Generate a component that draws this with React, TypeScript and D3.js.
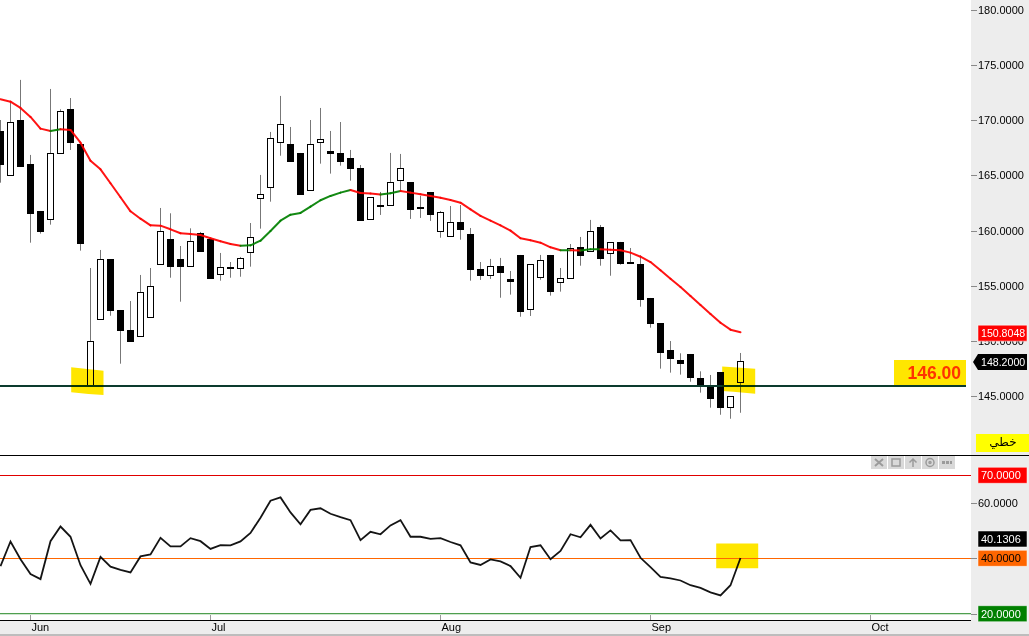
import * as d3 from 'd3'

const WIDTH = 1029
const HEIGHT = 636
const PLOT_RIGHT = 971

// daily candles, Jun - Sep
const opens = [169.01, 165.0, 170.0, 166.02, 161.77, 161.02, 166.99, 171.0, 167.83, 146.02, 151.97, 157.4, 152.81, 150.97, 150.43, 152.15, 156.95, 159.24, 157.43, 156.77, 159.78, 159.24, 156.04, 156.67, 156.58, 158.03, 162.97, 163.91, 167.99, 167.83, 167.02, 163.64, 167.99, 167.2, 167.02, 166.57, 165.66, 161.02, 162.31, 162.28, 164.55, 164.39, 162.13, 163.49, 159.93, 159.48, 160.77, 159.69, 156.52, 155.95, 156.79, 155.62, 157.79, 152.93, 155.77, 157.79, 155.32, 155.68, 158.51, 158.12, 160.32, 157.94, 158.97, 157.15, 156.97, 153.9, 151.63, 149.19, 148.29, 148.83, 146.66, 146.0, 147.2, 144.0, 146.32]
const highs = [170.0, 171.66, 173.63, 166.84, 161.77, 172.81, 170.97, 171.99, 167.83, 156.61, 158.24, 157.4, 152.81, 153.62, 155.98, 156.61, 162.04, 161.56, 158.6, 160.2, 159.87, 159.24, 157.97, 157.15, 157.61, 160.68, 165.03, 168.92, 172.18, 169.37, 167.02, 170.0, 171.09, 169.01, 169.82, 167.29, 165.93, 163.01, 163.49, 167.02, 166.93, 164.39, 163.13, 163.49, 161.77, 162.22, 162.31, 160.23, 157.15, 157.43, 157.52, 156.34, 157.79, 156.95, 157.79, 157.79, 156.61, 158.78, 159.42, 160.96, 160.5, 158.94, 158.97, 158.42, 157.76, 153.9, 151.63, 150.0, 148.89, 148.83, 147.26, 146.93, 147.2, 145.0, 148.92]
const lows = [164.33, 165.0, 165.78, 158.9, 159.72, 160.53, 166.99, 167.29, 158.18, 146.02, 151.97, 152.29, 147.95, 149.94, 150.43, 152.15, 156.95, 155.73, 153.56, 156.77, 158.09, 155.64, 155.46, 155.73, 155.82, 156.73, 160.17, 162.61, 166.77, 166.23, 163.24, 163.64, 166.05, 165.15, 165.87, 164.51, 160.89, 161.02, 161.41, 162.28, 163.52, 161.05, 161.14, 160.87, 159.35, 159.48, 159.17, 155.46, 155.53, 155.62, 153.92, 154.2, 152.2, 152.27, 155.55, 154.11, 154.47, 155.68, 156.82, 158.12, 156.82, 155.91, 156.91, 157.0, 153.11, 151.21, 147.5, 147.14, 146.96, 146.32, 145.33, 143.97, 143.33, 142.97, 143.51]
const closes = [165.96, 169.8, 165.78, 161.53, 159.87, 166.99, 170.79, 167.95, 158.81, 149.98, 157.4, 152.75, 150.94, 149.94, 154.41, 154.96, 159.93, 156.73, 156.73, 159.03, 158.09, 155.64, 156.67, 156.55, 157.49, 159.39, 163.28, 168.35, 169.62, 166.23, 163.24, 167.81, 168.26, 166.96, 166.23, 165.6, 160.89, 163.01, 162.16, 164.36, 165.63, 161.89, 161.98, 161.44, 161.65, 160.75, 160.08, 156.45, 155.91, 156.77, 156.19, 155.37, 152.66, 156.95, 157.31, 154.47, 155.68, 158.39, 157.72, 159.93, 157.45, 158.94, 157.0, 157.0, 153.74, 151.57, 148.95, 148.4, 147.95, 146.68, 146.0, 144.78, 143.97, 145.0, 148.17]
const movingAverage = [171.88, 171.66, 171.09, 170.28, 169.22, 169.01, 169.16, 169.1, 167.95, 166.32, 165.54, 164.28, 163.01, 161.74, 161.07, 160.47, 160.44, 160.11, 159.75, 159.69, 159.6, 159.3, 159.03, 158.78, 158.63, 158.66, 159.08, 159.96, 160.89, 161.43, 161.59, 162.16, 162.74, 163.13, 163.43, 163.67, 163.4, 163.34, 163.25, 163.37, 163.58, 163.43, 163.28, 163.13, 162.97, 162.77, 162.52, 161.92, 161.32, 160.89, 160.47, 159.99, 159.3, 159.12, 158.9, 158.48, 158.21, 158.21, 158.19, 158.3, 158.3, 158.27, 158.21, 158.0, 157.63, 157.15, 156.4, 155.64, 154.89, 154.08, 153.26, 152.45, 151.66, 151.03, 150.8]
const rsi = [37.2, 46.1, 39.7, 34.3, 32.5, 46.2, 51.5, 47.8, 37.5, 30.8, 40.5, 37.0, 35.8, 34.9, 40.7, 41.4, 47.4, 44.3, 44.3, 47.3, 46.2, 43.4, 44.8, 44.7, 46.1, 49.2, 54.7, 60.8, 62.0, 56.6, 52.3, 57.5, 58.1, 56.1, 54.9, 53.8, 46.6, 49.6, 48.7, 51.9, 53.8, 47.8, 47.8, 47.0, 47.3, 45.9, 44.7, 38.5, 37.6, 39.6, 38.9, 37.2, 33.0, 44.1, 44.7, 39.7, 42.7, 48.7, 47.6, 52.1, 47.2, 50.1, 46.5, 46.6, 40.2, 36.8, 33.3, 32.8, 32.0, 30.3, 29.3, 27.7, 26.6, 30.3, 40.13]

const priceTicks = [180, 175, 170, 165, 160, 155, 150, 145]
const rsiTicks = [60, 40, 20]
const months = ['Jun', 'Jul', 'Aug', 'Sep', 'Oct']
const monthIndex = [3, 21, 44, 65, 87]

const supportLevel = 146
const lastClose = 148.2
const lastMa = 150.8048
const lastRsi = 40.1306
const rsiHigh = 70
const rsiMid = 40
const rsiLow = 20

// hand drawn highlights, [bar index, value]
const leftHighlight = [[7.07, 147.62], [10.3, 147.32], [10.3, 145.12], [8.8, 145.21], [7.07, 145.36]]
const rightHighlight = [[72.17, 147.7], [75.47, 147.5], [75.47, 145.24], [73.27, 145.42], [72.17, 145.48]]
const rsiHighlight = [[71.57, 45.4], [75.77, 45.4], [75.77, 36.4], [71.57, 36.4]]

const FONT = '"Liberation Sans", Arial, sans-serif'

const x = d3.scaleLinear().domain([0, 87]).range([0.5, 870.5])
const yPrice = d3.scaleLinear().domain([145, 180]).range([396.3, 9.5])
const yRsi = d3.scaleLinear().domain([20, 70]).range([613.7, 475.3])

const snap = (v: number) => Math.round(v)

function Tag({ y, label, fill, color, pointer }: { y: number; label: string; fill: string; color: string; pointer?: boolean }) {
  const top = y - 8
  const d = pointer
    ? `M973,${y}L978,${top}H1027V${top + 16}H978Z`
    : `M978,${top}H1027V${top + 16}H978Z`
  return (
    <g>
      <path d={d} fill={fill} stroke={pointer ? 'none' : '#fff'} strokeOpacity={0.5} />
      <text x={981} y={y + 4} fontSize={pointer || label.length > 7 ? 10.6 : 11} fontFamily={FONT} fill={color}>
        {label}
      </text>
    </g>
  )
}

function ToolButton({ index, children }: { index: number; children: any }) {
  return (
    <g transform={`translate(${871 + index * 17} 456)`}>
      <rect width={16} height={13} fill="#d9d9d9" />
      <g stroke="#9b9b9b" fill="none" strokeWidth={1.5}>
        {children}
      </g>
    </g>
  )
}

export default function App() {
  const rsiLine = d3
    .line<number>()
    .x((_, i) => x(i))
    .y((d) => yRsi(d))
  const poly = (pts: number[][], y: d3.ScaleLinear<number, number>) =>
    d3
      .line<number[]>()
      .x((p) => x(p[0]))
      .y((p) => y(p[1]))(pts) + 'Z'

  return (
    <svg
      width={WIDTH}
      height={HEIGHT}
      viewBox={`0 0 ${WIDTH} ${HEIGHT}`}
      style={{ position: 'absolute', left: 0, top: 0, background: '#fff' }}
    >
      {/* axis backgrounds */}
      <rect x={PLOT_RIGHT} y={0} width={WIDTH - PLOT_RIGHT} height={HEIGHT} fill="#ededed" />
      <rect x={0} y={621} width={PLOT_RIGHT} height={15} fill="#ededed" />
      <rect x={0} y={634} width={WIDTH} height={2} fill="#bdbdbd" />

      {/* price ticks */}
      {priceTicks.map((t) => (
        <g key={t}>
          <line x1={PLOT_RIGHT} x2={977} y1={snap(yPrice(t)) + 0.5} y2={snap(yPrice(t)) + 0.5} stroke="#8a8a8a" />
          <text x={978} y={yPrice(t) + 4} fontSize={11} fontFamily={FONT} fill="#000">
            {t.toFixed(4)}
          </text>
        </g>
      ))}

      {/* candles */}
      {closes.map((c, i) => {
        const o = opens[i]
        const up = c >= o
        const cx = snap(x(i) - 0.5) + 0.5
        const top = snap(yPrice(Math.max(o, c)))
        const bottom = snap(yPrice(Math.min(o, c)))
        return (
          <g key={i}>
            <line x1={cx} x2={cx} y1={yPrice(highs[i])} y2={yPrice(lows[i])} stroke="#777" strokeWidth={1} />
            {up ? (
              <rect x={cx - 3} y={top + 0.5} width={6} height={Math.max(bottom - top, 2)} fill="#fff" stroke="#000" strokeWidth={1} />
            ) : (
              <rect x={cx - 3.5} y={top} width={7} height={Math.max(bottom - top, 2)} fill="#000" />
            )}
          </g>
        )
      })}

      {/* moving average, green while rising */}
      {movingAverage.slice(1).map((v, i) => {
        const prev = movingAverage[i]
        const path = d3
          .line<number>()
          .x((_, k) => x(i + k))
          .y((d) => yPrice(d))([prev, v]) as string
        return <path key={i} d={path} fill="none" stroke={v >= prev ? '#008000' : '#ff0000'} strokeWidth={2} strokeLinecap="round" opacity={0.92} />
      })}

      {/* support line */}
      <line x1={0} x2={966} y1={snap(yPrice(supportLevel)) + 1} y2={snap(yPrice(supportLevel)) + 1} stroke="#0c3b2e" strokeWidth={2} />
      <rect x={894} y={360} width={72} height={25} fill="#ffe600" />
      <text x={961} y={379} textAnchor="end" fontSize={17.5} fontWeight={700} fontFamily={FONT} fill="#ff3300">
        {supportLevel.toFixed(2)}
      </text>

      {/* marker highlights */}
      <path d={poly(leftHighlight, yPrice)} fill="#ffe600" style={{ mixBlendMode: 'multiply' }} />
      <path d={poly(rightHighlight, yPrice)} fill="#ffe600" style={{ mixBlendMode: 'multiply' }} />

      <Tag y={yPrice(lastMa) + 1} label={lastMa.toFixed(4)} fill="#ff0000" color="#fff" />
      <Tag y={362} label={lastClose.toFixed(4)} fill="#000" color="#fff" pointer />

      <rect x={976} y={434} width={53} height={18} fill="#ffff00" />
      <text x={1003} y={446} textAnchor="middle" fontSize={12} fontFamily='"DejaVu Sans", sans-serif' fill="#000">
        خطي
      </text>

      {/* pane divider and toolbar */}
      <line x1={0} x2={WIDTH} y1={455.5} y2={455.5} stroke="#000" />
      <ToolButton index={0}>
        <path d="M4,3L12,10M12,3L4,10" strokeWidth={2} />
      </ToolButton>
      <ToolButton index={1}>
        <rect x={4} y={3} width={8} height={7} />
      </ToolButton>
      <ToolButton index={2}>
        <path d="M8,11V3M4.5,6.5L8,3L11.5,6.5" />
      </ToolButton>
      <ToolButton index={3}>
        <circle cx={8} cy={6.5} r={4} />
        <circle cx={8} cy={6.5} r={1} />
      </ToolButton>
      <ToolButton index={4}>
        <path d="M3,6.5H13" strokeWidth={3} strokeDasharray="3 1" />
      </ToolButton>

      {/* RSI pane */}
      <path d={poly(rsiHighlight, yRsi)} fill="#ffe600" />
      <line x1={0} x2={PLOT_RIGHT} y1={snap(yRsi(rsiHigh)) + 0.5} y2={snap(yRsi(rsiHigh)) + 0.5} stroke="#e00000" />
      <line x1={0} x2={PLOT_RIGHT} y1={snap(yRsi(rsiMid)) + 0.5} y2={snap(yRsi(rsiMid)) + 0.5} stroke="#ff6600" />
      <line x1={0} x2={PLOT_RIGHT} y1={613.5} y2={613.5} stroke="#4f9f4f" />
      <line x1={0} x2={PLOT_RIGHT} y1={614.5} y2={614.5} stroke="#cfe6cf" />
      <path d={rsiLine(rsi) as string} fill="none" stroke="#000" strokeWidth={1.8} opacity={0.92} />

      {/* 40 and 20 carry only the tick, their tags hold the number */}
      {rsiTicks.map((t) => (
        <g key={t}>
          <line x1={PLOT_RIGHT} x2={977} y1={snap(yRsi(t)) + 0.5} y2={snap(yRsi(t)) + 0.5} stroke="#8a8a8a" />
          {t === 60 && (
            <text x={978} y={yRsi(t) + 4} fontSize={11} fontFamily={FONT} fill="#000">
              {t.toFixed(4)}
            </text>
          )}
        </g>
      ))}
      <Tag y={yRsi(rsiHigh)} label={rsiHigh.toFixed(4)} fill="#ff0000" color="#fff" />
      <Tag y={yRsi(lastRsi) - 19} label={lastRsi.toFixed(4)} fill="#000" color="#fff" />
      <Tag y={yRsi(rsiMid)} label={rsiMid.toFixed(4)} fill="#ff6600" color="#000" />
      <Tag y={yRsi(rsiLow)} label={rsiLow.toFixed(4)} fill="#008000" color="#fff" />

      {/* time axis */}
      <line x1={0} x2={PLOT_RIGHT} y1={620.5} y2={620.5} stroke="#000" />
      {months.map((m, i) => (
        <g key={m}>
          <line x1={x(monthIndex[i])} x2={x(monthIndex[i])} y1={615} y2={620} stroke="#999" />
          <text x={x(monthIndex[i]) + 1} y={631} fontSize={11} fontFamily={FONT} fill="#000">
            {m}
          </text>
        </g>
      ))}
    </svg>
  )
}
